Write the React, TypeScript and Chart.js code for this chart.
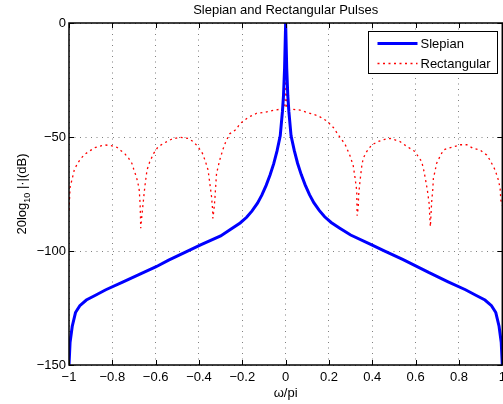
import { useEffect, useRef } from "react";
import { Chart, registerables } from "chart.js";

Chart.register(...registerables);

const TITLE = "Slepian and Rectangular Pulses";
const X_TITLE = "ω/pi";
const Y_TITLE_MAIN = "20log";
const Y_TITLE_SUB = "10";
const Y_TITLE_REST = " |·|(dB)";

const X_TICKS = [-1, -0.8, -0.6, -0.4, -0.2, 0, 0.2, 0.4, 0.6, 0.8, 1];
const Y_TICKS = [-150, -100, -50, 0];

const SERIES_NAMES = ["Slepian", "Rectangular"];

const slepianX = [
  -1, -0.995, -0.985, -0.97, -0.95, -0.92, -0.88, -0.83, -0.75, -0.66, -0.6, -0.54, -0.46, -0.39,
  -0.3, -0.25, -0.21, -0.18, -0.155, -0.13, -0.11, -0.09, -0.072, -0.055, -0.04, -0.025, -0.015,
  -0.01, -0.005, 0, 0.005, 0.01, 0.015, 0.025, 0.04, 0.055, 0.072, 0.09, 0.11, 0.13, 0.155, 0.18,
  0.21, 0.25, 0.3, 0.39, 0.46, 0.54, 0.6, 0.66, 0.75, 0.83, 0.88, 0.92, 0.95, 0.97, 0.985, 0.995, 1,
];
const slepianY = [
  -150, -140, -133, -127, -124, -121.5, -119.5, -117, -113.5, -109.6, -107, -104, -100.4, -97.2,
  -93.4, -90.2, -87.7, -85.2, -82.4, -79, -75.5, -71.2, -66.7, -61.7, -56.2, -49.5, -39,
  -32, -20, 0, -20, -32, -39, -49.5, -56, -61.5, -66.5, -71, -75.3, -78.8, -82.2, -85,
  -87.5, -90, -93, -97, -100.2, -103.7, -106.5, -109.4, -113.5, -117, -119.5, -121.5, -124, -127, -133, -140, -150,
];

const rectX = [
  -1, -0.995, -0.987, -0.975, -0.96, -0.944, -0.926, -0.903, -0.88, -0.857, -0.833, -0.806, -0.779,
  -0.76, -0.741, -0.725, -0.71, -0.701, -0.692, -0.683, -0.676, -0.672, -0.67, -0.669,
  -0.661, -0.65, -0.64, -0.627, -0.609, -0.589, -0.558, -0.527, -0.488, -0.45, -0.427, -0.404,
  -0.384, -0.37, -0.358, -0.35, -0.342, -0.337, -0.336,
  -0.331, -0.327, -0.319, -0.304, -0.288, -0.276, -0.258, -0.23, -0.211, -0.173, -0.134, -0.096,
  -0.05, -0.017, -0.004, 0, 0.004, 0.02, 0.066, 0.112, 0.15, 0.189, 0.22, 0.251, 0.274, 0.297,
  0.312, 0.32, 0.328, 0.329, 0.33,
  0.335, 0.337, 0.343, 0.351, 0.358, 0.374, 0.397, 0.427, 0.458, 0.482, 0.505, 0.528, 0.559,
  0.574, 0.597, 0.612, 0.628, 0.639, 0.646, 0.654, 0.662, 0.666, 0.668,
  0.674, 0.679, 0.682, 0.689, 0.697, 0.712, 0.728, 0.751, 0.782, 0.805, 0.836, 0.866, 0.897,
  0.928, 0.943, 0.967, 0.982, 0.99, 0.993, 1,
];
const rectY = [
  -82, -72, -69, -64.2, -61.5, -59.3, -57.5, -56, -54.7, -54, -53.5, -53.8, -54.5,
  -56, -57.5, -59.3, -61.5, -64.2, -66.7, -69.6, -73.2, -79, -85, -90,
  -82, -71.8, -64.5, -60.8, -57.2, -54.3, -52.5, -51, -50.1, -50.6, -52, -54.3,
  -57.2, -60.8, -64.5, -70.4, -76.2, -82, -85.7,
  -82, -77.6, -66, -60, -55, -52, -48.6, -46.8, -44.2, -41.4, -39.6, -39.2,
  -38.2, -37.7, -37.7, 0, -37.7, -37.7, -38.2, -39.6, -40.7, -42.9, -45.8, -50.2, -53.1, -58.2,
  -62.6, -67.7, -73.5, -79.4, -84.5,
  -81, -75.4, -69.5, -63, -59.3, -56.4, -53.5, -52, -51, -50.6, -51.3, -52, -54.1,
  -55, -56.4, -58.6, -60.8, -65.2, -68.9, -73.2, -79, -86.4, -89.3,
  -78.4, -73.2, -68.1, -65.2, -61.5, -58.6, -55.7, -54.9, -54.1, -53.4, -53.4, -55, -55.7,
  -57.9, -60.1, -64.5, -68.9, -72.5, -77.6, -80,
];

const FONT = '"Liberation Sans", Arial, Helvetica, sans-serif';
const BLUE = "rgb(0,0,255)";
const RED = "rgb(255,0,0)";
const RED_DASH = [2, 3.5];

const fmt = (v: number) => {
  const r = Math.round(v * 10) / 10;
  return r < 0 ? "\u2212" + String(Math.abs(r)) : String(r);
};

const decorPlugin = {
  id: "decor",
  afterDatasetsDraw(chart: any) {
    const { ctx, chartArea: a, scales } = chart;
    const xs = scales.x;
    const ys = scales.y;
    ctx.save();
    ctx.strokeStyle = "#000";
    ctx.lineWidth = 1;
    const tl = 5;
    ctx.beginPath();
    X_TICKS.forEach((v) => {
      const px = Math.round(xs.getPixelForValue(v)) + 0.5;
      ctx.moveTo(px, a.bottom);
      ctx.lineTo(px, a.bottom - tl);
      ctx.moveTo(px, a.top);
      ctx.lineTo(px, a.top + tl);
    });
    Y_TICKS.forEach((v) => {
      const py = Math.round(ys.getPixelForValue(v)) + 0.5;
      ctx.moveTo(a.left, py);
      ctx.lineTo(a.left + tl, py);
      ctx.moveTo(a.right, py);
      ctx.lineTo(a.right - tl, py);
    });
    ctx.stroke();
    ctx.lineWidth = 1.5;
    ctx.strokeRect(a.left, a.top, a.right - a.left, a.bottom - a.top);
    ctx.restore();
  },
  afterDraw(chart: any) {
    const { ctx, chartArea: a } = chart;
    const cx = (a.left + a.right) / 2;
    ctx.save();
    ctx.fillStyle = "#000";
    ctx.font = `13px ${FONT}`;
    ctx.textAlign = "center";
    ctx.textBaseline = "middle";
    ctx.fillText(TITLE, cx, 10);
    ctx.fillText(X_TITLE, cx, 393);

    // y title with subscript
    const cy = (a.top + a.bottom) / 2;
    ctx.font = `13px ${FONT}`;
    const w1 = ctx.measureText(Y_TITLE_MAIN).width;
    const w3 = ctx.measureText(Y_TITLE_REST).width;
    ctx.font = `9px ${FONT}`;
    const w2 = ctx.measureText(Y_TITLE_SUB).width;
    const total = w1 + w2 + w3;
    ctx.translate(21.5, cy);
    ctx.rotate(-Math.PI / 2);
    ctx.textAlign = "left";
    ctx.textBaseline = "alphabetic";
    let x0 = -total / 2;
    ctx.font = `13px ${FONT}`;
    ctx.fillText(Y_TITLE_MAIN, x0, 4.5);
    x0 += w1;
    ctx.font = `9px ${FONT}`;
    ctx.fillText(Y_TITLE_SUB, x0, 8.5);
    x0 += w2;
    ctx.font = `13px ${FONT}`;
    ctx.fillText(Y_TITLE_REST, x0, 4.5);
    ctx.restore();

    // legend
    const ds = chart.data.datasets;
    const bw = 129;
    const bh = 42;
    const bx = Math.round(a.right - 5 - bw) + 0.5;
    const by = Math.round(a.top + 8) + 0.5;
    ctx.save();
    ctx.fillStyle = "#fff";
    ctx.fillRect(bx, by, bw, bh);
    ctx.strokeStyle = "#000";
    ctx.lineWidth = 1;
    ctx.strokeRect(bx, by, bw, bh);
    ds.forEach((d: any, i: number) => {
      const ly = by + 12 + i * 20;
      ctx.beginPath();
      ctx.strokeStyle = d.borderColor;
      ctx.lineWidth = d.borderWidth;
      ctx.setLineDash(d.borderDash || []);
      ctx.moveTo(bx + 9, ly);
      ctx.lineTo(bx + 49, ly);
      ctx.stroke();
      ctx.setLineDash([]);
      ctx.fillStyle = "#000";
      ctx.font = `13px ${FONT}`;
      ctx.textAlign = "left";
      ctx.textBaseline = "middle";
      ctx.fillText(d.label, bx + 52, ly + 0.5);
    });
    ctx.restore();
  },
};

export default function App() {
  const ref = useRef<HTMLCanvasElement | null>(null);
  useEffect(() => {
    if (!ref.current) return;
    const chart = new Chart(ref.current, {
      type: "line",
      data: {
        datasets: [
          {
            label: SERIES_NAMES[0],
            data: slepianX.map((x, i) => ({ x, y: slepianY[i] })),
            borderColor: BLUE,
            borderWidth: 3,
            pointRadius: 0,
            tension: 0,
            fill: false,
          },
          {
            label: SERIES_NAMES[1],
            data: rectX.map((x, i) => ({ x, y: rectY[i] })),
            borderColor: RED,
            borderWidth: 1.3,
            borderDash: RED_DASH,
            pointRadius: 0,
            tension: 0,
            fill: false,
          },
        ],
      },
      options: {
        animation: false,
        responsive: false,
        devicePixelRatio: 1,
        layout: { padding: { top: 23, right: 17.7, left: 0, bottom: 0 } },
        plugins: { legend: { display: false }, title: { display: false }, tooltip: { enabled: false } },
        scales: {
          x: {
            type: "linear",
            min: -1,
            max: 1,
            afterBuildTicks: (s: any) => {
              s.ticks = X_TICKS.map((v) => ({ value: v }));
            },
            afterFit: (s: any) => {
              s.height = 39;
            },
            ticks: {
              autoSkip: false,
              maxRotation: 0,
              padding: 5,
              color: "#000",
              font: { family: FONT, size: 13 },
              callback: (v: any) => fmt(Number(v)),
            },
            grid: { color: "rgba(0,0,0,0.5)", lineWidth: 1, drawTicks: false },
            border: { display: false, dash: [1, 4.5] },
          },
          y: {
            type: "linear",
            min: -150,
            max: 0,
            afterBuildTicks: (s: any) => {
              s.ticks = Y_TICKS.map((v) => ({ value: v }));
            },
            afterFit: (s: any) => {
              s.width = 69;
            },
            ticks: {
              autoSkip: false,
              padding: 3,
              color: "#000",
              font: { family: FONT, size: 13 },
              callback: (v: any) => fmt(Number(v)),
            },
            grid: { color: "rgba(0,0,0,0.5)", lineWidth: 1, drawTicks: false },
            border: { display: false, dash: [1, 4.5] },
          },
        },
      },
      plugins: [decorPlugin],
    });
    return () => chart.destroy();
  }, []);
  return (
    <div style={{ position: "absolute", left: 0, top: 0, width: 503, height: 404, overflow: "hidden", background: "#fff" }}>
      <canvas ref={ref} width={520} height={404} style={{ width: 520, height: 404, display: "block" }} />
    </div>
  );
}
